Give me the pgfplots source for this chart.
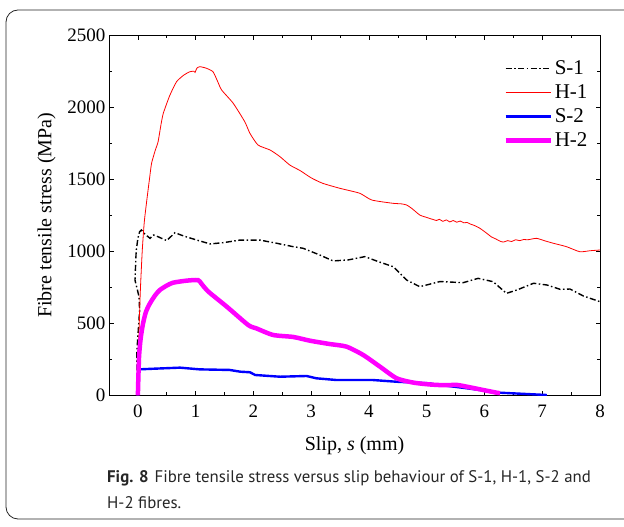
\documentclass[border=0pt]{standalone}
\usepackage{pgfplots}
\pgfplotsset{compat=1.18}
\usepackage{fontspec}
\setmainfont{Liberation Serif}
\newfontfamily\capfont{PT Sans}
\definecolor{cRed}{RGB}{255,0,0}
\definecolor{cBlue}{RGB}{0,0,255}
\definecolor{cMag}{RGB}{255,0,255}
\begin{document}
\begin{tikzpicture}[x=1bp,y=1bp]
\useasboundingbox (0,0) rectangle (624,527);
\begin{scope}
\clip (0,0) rectangle (624,527);
\draw[rounded corners=12bp, line width=0.8bp, black!85] (6,8) rectangle (660,517);
\end{scope}
\begin{axis}[
  at={(109bp,131.7bp)}, anchor=south west,
  width=491bp, height=360bp, scale only axis,
  xmin=-0.5, xmax=8, ymin=0, ymax=2500,
  xtick={0,1,...,8}, ytick={0,500,...,2500},
  minor x tick num=1, minor y tick num=1,
  tick align=inside,
  major tick length=4.5bp, minor tick length=3bp,
  every tick/.style={black, line width=0.6bp},
  axis line style={line width=0.8bp},
  tick label style={font=\fontsize{19bp}{21bp}\selectfont},
  xticklabel style={yshift=-6bp},
  /pgf/number format/assume math mode=true,
  /pgf/number format/set thousands separator={},
  xlabel={Slip, \textit{s} (mm)},
  ylabel={Fibre tensile stress (MPa)},
  label style={font=\fontsize{20bp}{22bp}\selectfont},
  xlabel style={yshift=-12bp},
  ylabel style={yshift=5bp},
  legend style={draw=none, fill=none, at={(0.985,0.94)}, anchor=north east,
    font=\fontsize{21bp}{23bp}\selectfont, row sep=4.5bp,
    /tikz/every even column/.append style={column sep=3bp}},
  legend cell align=left,
  legend image code/.code={\draw[#1] (0bp,0bp) -- (45bp,0bp);},
]
\addplot[black, line width=1.4bp, dash pattern=on 6bp off 2.5bp on 1.5bp off 2.5bp] coordinates {
(0,0) (-0.02,290) (0.03,590) (0.02,685) (-0.05,800) (-0.04,900) (-0.03,1000) (0.0,1090)
(0.03,1136) (0.06,1148) (0.12,1120) (0.21,1090) (0.27,1113) (0.35,1101) (0.50,1074)
(0.64,1129) (0.80,1105) (1.02,1078) (1.25,1051) (1.48,1060) (1.77,1078) (2.11,1078)
(2.40,1056) (2.69,1032) (2.86,1021) (3.15,974) (3.38,933) (3.64,940) (3.93,963)
(4.15,930) (4.42,893) (4.65,801) (4.88,754) (5.23,790) (5.63,782) (5.89,812)
(6.15,789) (6.38,708) (6.56,731) (6.85,778) (7.08,766) (7.31,736) (7.48,738)
(7.71,690) (8.00,650)
};
\addlegendentry{S-1}
\addplot[cRed, line width=0.8bp, smooth, tension=0.35] coordinates {
(0,0) (0.01,300) (0.04,700) (0.075,1000) (0.11,1200) (0.15,1340) (0.20,1500)
(0.237,1611) (0.30,1700) (0.35,1761) (0.40,1880) (0.44,1958) (0.55,2080) (0.67,2178)
(0.80,2225) (0.90,2247) (0.97,2250) (0.99,2242) (1.02,2271) (1.07,2282) (1.18,2272)
(1.30,2247) (1.38,2180) (1.45,2120) (1.65,2028) (1.85,1900) (1.94,1819) (2.08,1738)
(2.29,1703) (2.46,1657) (2.63,1599) (2.81,1560) (3.00,1510) (3.20,1472) (3.50,1437)
(3.84,1403) (4.05,1356) (4.42,1333) (4.55,1330) (4.65,1322) (4.75,1295) (4.88,1252)
(5.00,1235) (5.10,1222) (5.17,1214) (5.22,1222) (5.28,1208) (5.34,1218) (5.40,1204)
(5.46,1214) (5.52,1202) (5.58,1210) (5.64,1198) (5.70,1200) (5.75,1190) (5.82,1180)
(5.92,1160) (6.04,1125) (6.12,1100) (6.20,1085) (6.27,1070) (6.33,1064) (6.40,1074)
(6.47,1068) (6.54,1080) (6.61,1074) (6.68,1082) (6.75,1080) (6.90,1090) (7.05,1072)
(7.19,1056) (7.42,1032) (7.65,997) (7.83,1004) (8.00,1009)
};
\addlegendentry{H-1}
\addplot[cBlue, line width=2.4bp] coordinates {
(0,0) (0.01,180) (0.3,185) (0.73,192) (1.07,180) (1.59,176) (1.77,164) (1.94,160)
(2.03,141) (2.46,129) (2.92,134) (3.09,118) (3.44,106) (4.07,106) (4.48,94)
(5.06,83) (5.1,78) (5.69,49) (6.27,18) (7.08,2)
};
\addlegendentry{S-2}
\addplot[cMag, line width=4.5bp, smooth, tension=0.4] coordinates {
(0,0) (0.02,268) (0.05,400) (0.09,500) (0.14,580) (0.21,639) (0.30,695) (0.38,731)
(0.50,762) (0.61,782) (0.84,796) (1.04,800) (1.10,775)
(1.22,720) (1.54,615) (1.91,488) (2.05,465) (2.34,419) (2.69,405) (2.98,379)
(3.32,356) (3.61,338) (3.90,280) (4.19,199) (4.48,118) (4.77,88) (5.06,75)
(5.30,70) (5.52,72) (5.69,60) (6.00,35) (6.21,18) (6.27,15)
};
\addlegendentry{H-2}
\end{axis}
\node[anchor=base west, inner sep=0pt, text=black!85, font=\capfont\fontsize{16.8bp}{18bp}\selectfont] at (107,44) {\textbf{Fig. 8}\hspace{6bp}Fibre tensile stress versus slip behaviour of S-1, H-1, S-2 and};
\node[anchor=base west, inner sep=0pt, text=black!85, font=\capfont\fontsize{16.8bp}{18bp}\selectfont] at (107,18) {H-2 fibres.};
\end{tikzpicture}
\end{document}
